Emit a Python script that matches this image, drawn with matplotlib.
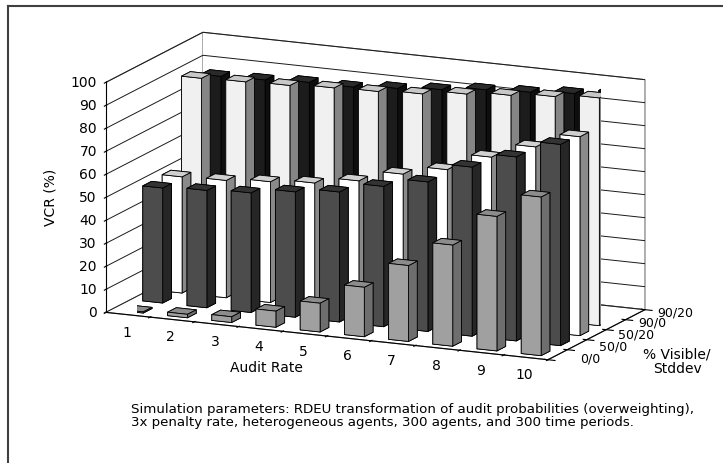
import matplotlib
matplotlib.use("Agg")
import matplotlib.pyplot as plt
from matplotlib.lines import Line2D
from mpl_toolkits.mplot3d import proj3d

plt.rcParams['font.family'] = ['DejaVu Sans']

# VCR (%) by audit rate for each visibility/stddev setting
audit_rates = [1, 2, 3, 4, 5, 6, 7, 8, 9, 10]
series_labels = ['0/0', '50/0', '50/20', '90/0', '90/20']
vcr_ticks = [0, 10, 20, 30, 40, 50, 60, 70, 80, 90, 100]

vcr_0_0 = [0.5, 1.5, 2.5, 7, 12.5, 21.5, 33, 44, 58.5, 69]
vcr_50_0 = [50, 51, 52, 54.5, 56.5, 61, 65, 73.5, 80, 87.5]
vcr_50_20 = [50.5, 51, 52.5, 54, 57, 62, 66, 73.5, 80, 86.5]
vcr_90_0 = [89, 89.5, 90, 91, 91.5, 92.5, 94.5, 96, 97.5, 99]
vcr_90_20 = [85.5, 86, 87, 87, 88.5, 90, 92, 93, 94.5, 97]

# (front, side, top) face shades per series
series_colors = [
    ('#a0a0a0', '#6e6e6e', '#8c8c8c'),
    ('#4c4c4c', '#262626', '#333333'),
    ('#ffffff', '#8a8a8a', '#d0d0d0'),
    ('#f0f0f0', '#858585', '#c8c8c8'),
    ('#1c1c1c', '#0e0e0e', '#2a2a2a'),
]

caption_lines = [
    "Simulation parameters: RDEU transformation of audit probabilities (overweighting),",
    "3x penalty rate, heterogeneous agents, 300 agents, and 300 time periods.",
]


def label_at(ax, M, x, y, z, text, dx, dy, ha, size=10):
    # put a 2D label next to a projected 3D point, offset in pixels
    px, py, _ = proj3d.proj_transform(x, y, z, M)
    ax.annotate(text, xy=(px, py), xycoords='data', xytext=(dx, dy),
                textcoords='offset pixels', ha=ha, va='center', fontsize=size,
                annotation_clip=False)


def main():
    all_series = [vcr_0_0, vcr_50_0, vcr_50_20, vcr_90_0, vcr_90_20]

    fig = plt.figure(figsize=(7.23, 4.64), dpi=100)
    ax = fig.add_axes([0.1897, 0.0619, 0.6418, 1.0], projection='3d')
    ax.set_proj_type('ortho')
    ax.view_init(elev=13.6, azim=-65.5)
    ax.set_box_aspect((485.7, 233.9, 236.6), zoom=1.232)
    ax.computed_zorder = False

    bw = 0.45
    # back row first, so nearer bars paint over farther ones
    for j in range(len(all_series) - 1, -1, -1):
        front, side, top = series_colors[j]
        faces = [side, top, front, side, side, side]
        for x, v in zip(audit_rates, all_series[j]):
            ax.bar3d(x - bw / 2, j - bw / 2, 0, bw, bw, v,
                     color=faces, edgecolor='black', linewidth=0.6, shade=False)

    ax.set_xlim(0.5, 10.5)
    ax.set_ylim(-0.5, 4.5)
    ax.set_zlim(0, 100)

    # tick marks sit between categories; labels are placed separately
    ax.set_xticks([r + 0.5 for r in [0] + audit_rates])
    ax.set_xticklabels([])
    ax.set_yticks([k - 0.5 for k in range(len(series_labels) + 1)])
    ax.set_yticklabels([])
    ax.set_zticks(vcr_ticks)
    ax.set_zticklabels([])
    ax.zaxis.set_ticks_position('lower')

    M = ax.get_proj()
    for r in audit_rates:
        label_at(ax, M, r, -0.5, 0, str(r), -1.5, -17, 'center')
    series_dy = [-3, -1, 0.5, 2.5, 2.5]
    for k, lab in enumerate(series_labels):
        label_at(ax, M, 10.5, k, 0, lab, 22, series_dy[k], 'left', size=9)
    for t in vcr_ticks:
        label_at(ax, M, 0.5, -0.5, t, str(t), -9, 0, 'right')

    for axis in (ax.xaxis, ax.yaxis, ax.zaxis):
        axis.set_pane_color((1, 1, 1, 1))
        axis.pane.set_edgecolor('0.45')
        axis.pane.set_linewidth(0.8)
    ax.xaxis._axinfo['grid']['color'] = (1, 1, 1, 0)
    ax.yaxis._axinfo['grid']['color'] = (1, 1, 1, 0)
    ax.zaxis._axinfo['grid']['color'] = '0.1'
    ax.zaxis._axinfo['grid']['linewidth'] = 0.7

    # axis titles
    fig.text(266 / 723, 1 - 368 / 464, 'Audit Rate', fontsize=10,
             ha='center', va='center')
    fig.text(677 / 723, 1 - 354 / 464, '% Visible/', fontsize=10,
             ha='center', va='center')
    fig.text(677 / 723, 1 - 369 / 464, 'Stddev', fontsize=10,
             ha='center', va='center')
    fig.text(51 / 723, 1 - 197 / 464, 'VCR (%)', fontsize=10, rotation=90,
             ha='center', va='center')

    for k, line in enumerate(caption_lines):
        fig.text(131 / 723, 1 - (410 + 13 * k) / 464, line, fontsize=9.6,
                 ha='left', va='center')

    # outer frame
    fig.add_artist(Line2D([8 / 723, 8 / 723], [0, 1 - 7 / 464], color='0.25', lw=1.5))
    fig.add_artist(Line2D([8 / 723, 1], [1 - 7 / 464, 1 - 7 / 464], color='0.25', lw=1.5))

    fig.savefig('out.png', dpi=100)


if __name__ == "__main__":
    main()
